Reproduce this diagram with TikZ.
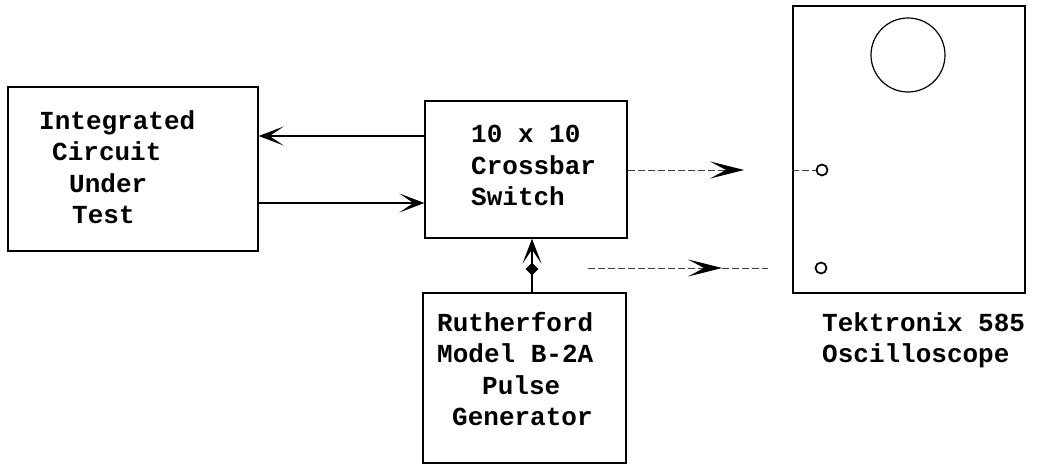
\documentclass[tikz,border=0pt]{standalone}
\usepackage{fontspec}
\setmonofont{Liberation Mono}
\usetikzlibrary{arrows.meta,shapes.geometric}
\begin{document}
\begin{tikzpicture}[x=1pt,y=-1pt,
  box/.style={draw,line width=1.3pt,inner sep=0pt},
  lbl/.style={font=\ttfamily\bfseries\fontsize{26}{31.5}\selectfont,inner sep=0pt},
  barbL/.style={-{Stealth[length=25pt,width=19pt,inset=14pt]}},
  barbR/.style={-{Stealth[length=34pt,width=17pt,inset=16pt,color=black]}},
  port/.style={draw,circle,line width=1.7pt,minimum size=11pt,inner sep=0pt},
  wire/.style={line width=1.1pt},
  faint/.style={line width=0.9pt,black!75,dash pattern=on 7pt off 3pt}]
\useasboundingbox (0,0) rectangle (1040,473);
% boxes
\node[box,minimum width=250pt,minimum height=164pt] (ic) at (133,169) {};
\node[box,minimum width=202pt,minimum height=137pt] (xbar) at (526,169.5) {};
\node[box,minimum width=203pt,minimum height=170pt] (pg) at (524.5,378) {};
\node[box,minimum width=232pt,minimum height=287pt] (scope) at (909,149.5) {};
% labels
\node[lbl,align=left,anchor=north west] (ictext) at (39,110)
  {Integrated\\\hspace*{13pt}Circuit\\\hspace*{30pt}Under\\\hspace*{33pt}Test};
\node[lbl,align=left,anchor=north west] (xtext) at (471,125) {10 x 10\\Crossbar\\Switch};
\node[lbl,align=left,anchor=north west] (pgtext) at (437,312)
  {Rutherford\\Model B-2A\\\hspace*{45pt}Pulse\\\hspace*{15pt}Generator};
\node[lbl,align=left,anchor=north west] (stext) at (822,312) {Tektronix 585\\Oscilloscope};
% scope face
\node[draw,circle,line width=1.2pt,minimum size=74pt,inner sep=0pt] (crt) at (908,55) {};
\node[port] (in1) at (822,170) {};
\node[port] (in2) at (821,268) {};
% connectors left
\draw[wire,barbL] (xbar.west |- 0,136) -- (ic.east |- 0,136);
\draw[wire,barbL] (ic.east |- 0,203) -- (xbar.west |- 0,203);
% pulse generator to crossbar
\node[fill,diamond,inner sep=0pt,minimum size=13pt] (dot) at (532,269) {};
\draw[wire,barbL] (pg.north -| dot) -- (xbar.south -| dot);
% right connectors
\coordinate (t1) at (744,170);
\draw[faint,barbR] (xbar.east |- t1) -- (t1);
\draw[faint] (scope.west |- in1) -- (in1.west);
\coordinate (s2) at (588,268);
\coordinate (m2) at (722,268);
\coordinate (e2) at (768,268);
\draw[faint,barbR] (s2) -- (m2);
\draw[faint] (m2) -- (e2);
\end{tikzpicture}
\end{document}
